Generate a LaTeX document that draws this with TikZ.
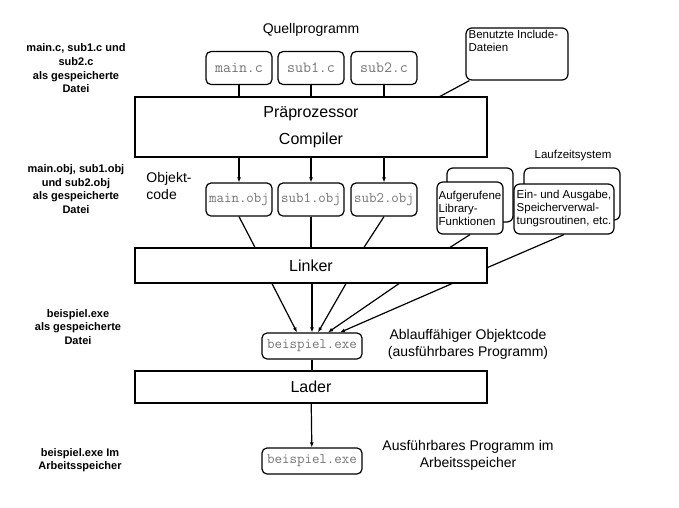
\documentclass[tikz,border=0pt]{standalone}
\usepackage{fontspec}
\setmainfont{Liberation Sans}
\usetikzlibrary{arrows.meta}

\begin{document}
\begin{tikzpicture}[x=1pt, y=-1pt,
		file/.style={draw, line width=1.2pt, rounded corners=5pt, minimum width=66pt, minimum height=33pt, inner sep=1pt, text=black!55, font=\fontsize{14.5}{16}\selectfont\ttfamily},
		srcfile/.style={file, font=\fontsize{15.5}{17}\selectfont\ttfamily},
		stage/.style={draw, line width=1.2pt, minimum width=352pt, align=center, font=\fontsize{16}{27}\selectfont},
		note/.style={draw, line width=1.2pt, rounded corners=6pt, fill=white},
		small/.style={align=left, font=\fontsize{11.5}{13}\selectfont},
		side/.style={align=center, font=\fontsize{11}{13.7}\selectfont\bfseries},
		info/.style={align=center, font=\fontsize{14}{17}\selectfont},
		link/.style={line width=1.2pt},
		flow/.style={line width=1.2pt, -{Latex[length=5pt, width=4pt]}}]
			\useasboundingbox (0,0) rectangle (679,507);

			% Quellprogramm
			\node[info] at (311,30) (quell) {Quellprogramm};
			\node[srcfile] at (239,68) (mainc) {main.c};
			\node[srcfile] at (311,68) (sub1c) {sub1.c};
			\node[srcfile] at (384,68) (sub2c) {sub2.c};
			\node[note, minimum width=102pt, minimum height=52pt, label={[small, anchor=north west, inner sep=3pt]north west:{Benutzte Include-\\Dateien}}] at (517,54) (incl) {};

			\node[stage, minimum height=60pt] at (311,127) (comp) {Präprozessor\\Compiler};

			% Objektcode
			\node[info, align=left] at (169,186) (objcode) {Objekt-\\code};
			\node[file] at (239,199.5) (mainobj) {main.obj};
			\node[file] at (311,199.5) (sub1obj) {sub1.obj};
			\node[file] at (384,199.5) (sub2obj) {sub2.obj};

			\node[note, minimum width=66pt, minimum height=54pt] at (480,195) (libback) {};
			\node[note, small, minimum width=66pt, minimum height=52pt, inner sep=1pt] at (470,208) (lib) {Aufgerufene\\Library-\\Funktionen};
			\node[small] at (573,156) (rtlabel) {Laufzeitsystem};
			\node[note, minimum width=96pt, minimum height=52pt] at (572,194) (rtback) {};
			\node[note, small, minimum width=100pt, minimum height=50pt, inner sep=1pt] at (564,209) (rt) {Ein- und Ausgabe,\\Speicherverwal-\\tungsroutinen, etc.};

			\node[stage, minimum height=35pt] at (311,265.5) (linker) {Linker};

			% Programm
			\node[file, minimum width=100pt, minimum height=26pt] at (312,346) (exe1) {beispiel.exe};
			\node[info] at (468,344) (ablauf) {Ablauffähiger Objektcode\\(ausführbares Programm)};
			\node[stage, minimum height=32pt] at (311,387) (lader) {Lader};
			\node[file, minimum width=100pt, minimum height=26pt] at (312,461) (exe2) {beispiel.exe};
			\node[info] at (468,455) (ausf) {Ausführbares Programm im\\Arbeitsspeicher};

			% Dateien links
			\node[side] at (76,68.5) (srcsave) {main.c, sub1.c und\\sub2.c\\als gespeicherte\\Datei};
			\node[side] at (76,189) (objsave) {main.obj, sub1.obj\\und sub2.obj\\als gespeicherte\\Datei};
			\node[side] at (78,327) (exesave) {beispiel.exe\\als gespeicherte\\Datei};
			\node[side] at (80,460) (memsave) {beispiel.exe Im\\Arbeitsspeicher};

			\path[link]
			(mainc) edge (mainc |- comp.north)
			(sub1c) edge (sub1c |- comp.north)
			(sub2c) edge (sub2c |- comp.north)
			([xshift=4pt]incl.south west) edge ([xshift=129pt]comp.north);

			\path[flow]
			(comp.south -| mainobj) edge (mainobj)
			(comp.south -| sub1obj) edge (sub1obj)
			(comp.south -| sub2obj) edge (sub2obj);

			\path[link]
			(mainobj.south) edge ([xshift=-56pt]linker.north)
			(sub1obj) edge (sub1obj |- linker.north)
			(sub2obj.south) edge ([xshift=53pt]linker.north)
			(lib.south) edge ([xshift=139pt]linker.north)
			(rt.south) edge ([yshift=-2pt]linker.east);

			\path[flow]
			([xshift=-39pt]linker.south) edge ([xshift=-15pt]exe1.north)
			([xshift=1pt]linker.south) edge (exe1.north)
			([xshift=35pt]linker.south) edge ([xshift=6pt]exe1.north)
			([xshift=88pt]linker.south) edge ([xshift=16pt]exe1.north)
			([xshift=141pt]linker.south) edge ([xshift=28pt]exe1.north);

			\path[link] (exe1) edge (exe1 |- lader.north);
			\path[flow] (lader) edge (exe2);
		\end{tikzpicture}
\end{document}
